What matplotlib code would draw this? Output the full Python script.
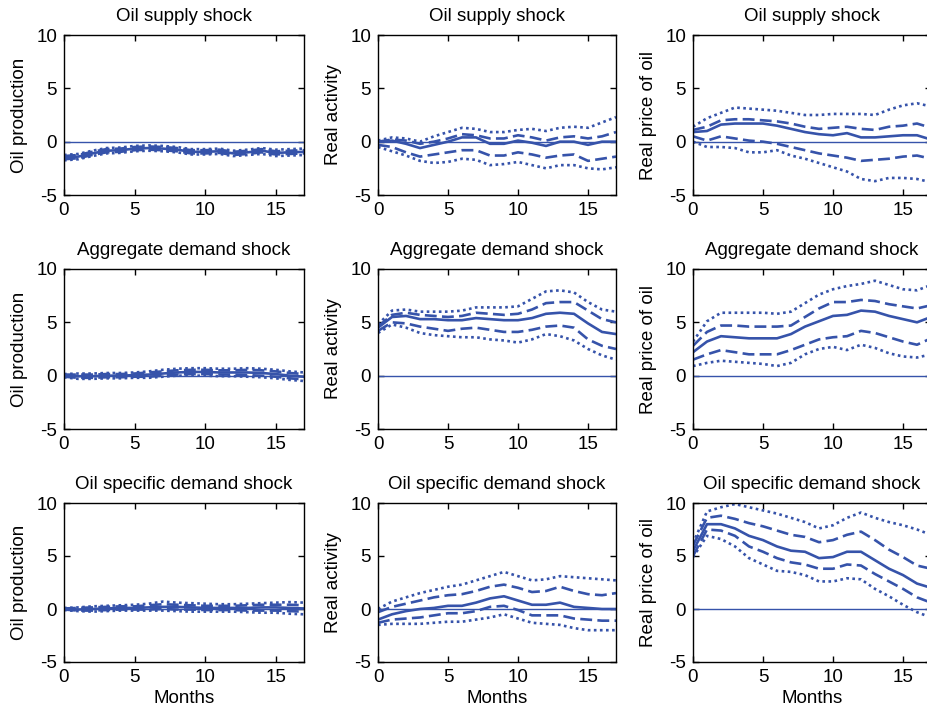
import matplotlib
matplotlib.use('Agg')
import matplotlib.pyplot as plt

# impulse responses, months 0..17
months = list(range(18))

shocks = ['Oil supply shock', 'Aggregate demand shock', 'Oil specific demand shock']
variables = ['Oil production', 'Real activity', 'Real price of oil']

# --- oil supply shock ---
sup_prod_med = [-1.5, -1.4, -1.1, -0.85, -0.8, -0.65, -0.6, -0.65, -0.75, -0.95, -0.95, -0.9, -1.1, -1.0, -0.85, -1.05, -1.0, -0.95]
sup_prod_d_hi = [-1.35, -1.25, -0.95, -0.7, -0.65, -0.5, -0.45, -0.5, -0.6, -0.8, -0.8, -0.75, -0.95, -0.85, -0.7, -0.9, -0.85, -0.8]
sup_prod_d_lo = [-1.65, -1.55, -1.25, -1.0, -0.95, -0.8, -0.75, -0.8, -0.9, -1.1, -1.1, -1.05, -1.25, -1.15, -1.0, -1.2, -1.15, -1.1]
sup_prod_p_hi = [-1.25, -1.15, -0.85, -0.6, -0.55, -0.4, -0.35, -0.4, -0.5, -0.7, -0.7, -0.65, -0.85, -0.75, -0.6, -0.75, -0.7, -0.65]
sup_prod_p_lo = [-1.75, -1.65, -1.35, -1.1, -1.05, -0.9, -0.85, -0.9, -1.0, -1.2, -1.2, -1.15, -1.35, -1.25, -1.15, -1.35, -1.3, -1.25]

sup_act_med = [0.0, 0.1, -0.2, -0.6, -0.3, 0.0, 0.4, 0.4, -0.2, -0.2, 0.1, -0.1, -0.4, 0.0, 0.0, -0.3, 0.0, 0.0]
sup_act_d_hi = [0.0, 0.2, 0.1, -0.2, 0.0, 0.3, 0.7, 0.6, 0.3, 0.3, 0.6, 0.4, 0.1, 0.4, 0.5, 0.3, 0.5, 0.9]
sup_act_d_lo = [-0.3, -0.5, -1.0, -1.4, -1.2, -1.0, -0.8, -0.8, -1.3, -1.3, -1.0, -1.2, -1.5, -1.3, -1.2, -1.8, -1.6, -1.4]
sup_act_p_hi = [0.1, 0.4, 0.3, 0.0, 0.5, 0.9, 1.3, 1.2, 0.9, 0.9, 1.1, 1.2, 1.0, 1.3, 1.4, 1.3, 1.8, 2.3]
sup_act_p_lo = [-0.5, -0.9, -1.3, -1.8, -2.0, -1.9, -1.6, -1.7, -2.2, -2.1, -1.9, -2.2, -2.5, -2.2, -2.2, -2.5, -2.6, -2.4]

sup_price_med = [0.9, 1.0, 1.6, 1.7, 1.7, 1.7, 1.5, 1.2, 0.9, 0.7, 0.6, 0.8, 0.4, 0.4, 0.5, 0.6, 0.6, 0.2]
sup_price_d_hi = [1.1, 1.4, 2.0, 2.1, 2.1, 2.0, 1.9, 1.7, 1.4, 1.2, 1.3, 1.4, 1.2, 1.1, 1.4, 1.5, 1.7, 1.3]
sup_price_d_lo = [0.5, 0.1, 0.5, 0.3, 0.1, 0.0, -0.2, -0.5, -0.8, -1.1, -1.3, -1.5, -1.8, -1.7, -1.6, -1.4, -1.3, -1.6]
sup_price_p_hi = [1.4, 2.2, 2.7, 3.2, 3.1, 3.0, 2.9, 2.7, 2.5, 2.5, 2.6, 2.6, 2.6, 2.5, 3.0, 3.4, 3.6, 3.3]
sup_price_p_lo = [0.0, -0.5, -0.5, -0.6, -1.0, -1.0, -0.8, -1.3, -1.6, -2.0, -2.4, -2.8, -3.5, -3.7, -3.4, -3.4, -3.5, -3.8]

# --- aggregate demand shock ---
agg_prod_med = [0.0, -0.05, -0.05, 0.0, 0.0, 0.05, 0.1, 0.2, 0.3, 0.35, 0.35, 0.3, 0.3, 0.3, 0.25, 0.15, 0.0, -0.1]
agg_prod_d_hi = [0.1, 0.1, 0.1, 0.15, 0.15, 0.2, 0.3, 0.4, 0.5, 0.55, 0.55, 0.5, 0.5, 0.55, 0.5, 0.4, 0.25, 0.15]
agg_prod_d_lo = [-0.1, -0.2, -0.2, -0.15, -0.15, -0.1, -0.1, 0.0, 0.1, 0.15, 0.15, 0.1, 0.1, 0.05, 0.0, -0.1, -0.25, -0.35]
agg_prod_p_hi = [0.15, 0.2, 0.2, 0.25, 0.25, 0.3, 0.4, 0.55, 0.65, 0.7, 0.7, 0.65, 0.65, 0.7, 0.65, 0.55, 0.4, 0.3]
agg_prod_p_lo = [-0.15, -0.3, -0.3, -0.25, -0.25, -0.2, -0.2, -0.1, 0.0, 0.0, 0.0, -0.05, -0.05, -0.1, -0.15, -0.25, -0.4, -0.5]

agg_act_med = [4.5, 5.5, 5.6, 5.3, 5.3, 5.2, 5.2, 5.4, 5.3, 5.2, 5.2, 5.4, 5.8, 5.9, 5.8, 4.9, 4.1, 3.9]
agg_act_d_hi = [4.6, 5.7, 5.9, 5.7, 5.6, 5.5, 5.6, 5.9, 5.8, 5.7, 5.8, 6.2, 6.8, 6.9, 6.9, 6.1, 5.3, 5.0]
agg_act_d_lo = [4.2, 5.0, 4.9, 4.6, 4.4, 4.2, 4.4, 4.5, 4.3, 4.1, 4.1, 4.3, 4.6, 4.7, 4.5, 3.4, 2.8, 2.5]
agg_act_p_hi = [4.8, 6.1, 6.2, 6.0, 6.0, 6.0, 6.1, 6.4, 6.4, 6.4, 6.5, 7.2, 7.9, 8.0, 7.8, 6.9, 6.2, 6.0]
agg_act_p_lo = [4.0, 4.8, 4.5, 4.0, 3.8, 3.7, 3.6, 3.6, 3.4, 3.3, 3.1, 3.4, 3.9, 3.7, 3.3, 2.5, 1.9, 1.5]

agg_price_med = [2.2, 3.2, 3.7, 3.6, 3.5, 3.5, 3.5, 3.9, 4.6, 5.1, 5.6, 5.7, 6.1, 6.0, 5.6, 5.3, 5.0, 5.5]
agg_price_d_hi = [2.8, 4.1, 4.7, 4.7, 4.6, 4.6, 4.6, 4.7, 5.5, 6.3, 6.9, 6.9, 7.1, 7.0, 6.7, 6.5, 6.3, 6.6]
agg_price_d_lo = [1.5, 2.0, 2.4, 2.2, 2.0, 2.0, 2.0, 2.4, 2.9, 3.4, 3.6, 3.7, 4.2, 4.0, 3.6, 3.2, 2.9, 3.5]
agg_price_p_hi = [3.2, 5.1, 5.9, 5.9, 5.9, 5.9, 5.8, 6.0, 6.8, 7.6, 8.1, 8.4, 8.6, 8.9, 8.5, 8.1, 8.0, 8.5]
agg_price_p_lo = [0.9, 1.2, 1.4, 1.3, 1.2, 1.1, 0.9, 1.2, 2.0, 2.5, 2.7, 2.4, 2.9, 2.6, 2.1, 1.8, 1.7, 2.0]

# --- oil specific demand shock ---
spec_prod_med = [0.0, -0.05, 0.0, 0.05, 0.1, 0.1, 0.15, 0.2, 0.2, 0.15, 0.1, 0.1, 0.1, 0.1, 0.15, 0.15, 0.1, 0.05]
spec_prod_d_hi = [0.05, 0.1, 0.15, 0.2, 0.25, 0.25, 0.35, 0.45, 0.4, 0.35, 0.3, 0.3, 0.3, 0.35, 0.4, 0.4, 0.4, 0.35]
spec_prod_d_lo = [-0.05, -0.15, -0.15, -0.1, -0.05, -0.05, -0.05, 0.0, -0.05, -0.05, -0.1, -0.1, -0.1, -0.15, -0.15, -0.15, -0.2, -0.25]
spec_prod_p_hi = [0.1, 0.15, 0.25, 0.3, 0.35, 0.4, 0.5, 0.7, 0.6, 0.55, 0.5, 0.45, 0.45, 0.5, 0.55, 0.6, 0.65, 0.6]
spec_prod_p_lo = [-0.1, -0.2, -0.25, -0.2, -0.15, -0.15, -0.15, -0.15, -0.2, -0.25, -0.25, -0.25, -0.25, -0.3, -0.35, -0.35, -0.45, -0.5]

spec_act_med = [-1.0, -0.5, -0.2, 0.0, 0.1, 0.3, 0.3, 0.6, 1.0, 1.2, 0.8, 0.4, 0.4, 0.6, 0.2, 0.1, 0.0, 0.0]
spec_act_d_hi = [-0.3, 0.2, 0.5, 0.8, 1.1, 1.3, 1.4, 1.7, 2.1, 2.3, 2.0, 1.6, 1.7, 2.1, 1.7, 1.4, 1.3, 1.5]
spec_act_d_lo = [-1.3, -1.0, -0.9, -0.8, -0.6, -0.4, -0.4, -0.2, 0.2, 0.3, -0.1, -0.6, -0.6, -0.6, -0.9, -1.0, -1.1, -1.1]
spec_act_p_hi = [0.0, 0.7, 1.1, 1.5, 1.8, 2.1, 2.3, 2.7, 3.1, 3.5, 3.1, 2.7, 2.8, 3.1, 3.0, 2.9, 2.8, 2.7]
spec_act_p_lo = [-1.5, -1.4, -1.4, -1.4, -1.3, -1.2, -1.2, -1.0, -0.8, -0.5, -0.9, -1.3, -1.4, -1.5, -1.8, -2.0, -2.0, -2.0]

spec_price_med = [5.5, 8.0, 8.0, 7.6, 6.9, 6.5, 5.9, 5.5, 5.4, 4.8, 4.9, 5.4, 5.4, 4.6, 3.8, 3.2, 2.4, 2.0]
spec_price_d_hi = [6.0, 8.6, 8.8, 8.5, 8.1, 7.8, 7.4, 7.0, 6.8, 6.3, 6.5, 7.0, 7.3, 6.5, 5.6, 4.9, 4.1, 3.8]
spec_price_d_lo = [5.0, 7.5, 7.4, 6.9, 5.9, 5.4, 4.8, 4.4, 4.2, 3.8, 3.8, 4.2, 4.1, 3.3, 2.6, 1.9, 1.1, 0.6]
spec_price_p_hi = [6.2, 9.2, 9.6, 9.9, 9.6, 9.3, 9.0, 8.6, 8.2, 7.6, 7.9, 8.6, 9.1, 8.6, 8.2, 7.9, 7.5, 7.0]
spec_price_p_lo = [4.9, 6.9, 6.6, 5.9, 4.8, 4.2, 3.6, 3.5, 3.2, 2.6, 2.6, 2.9, 2.8, 1.9, 1.2, 0.4, -0.3, -0.8]

panels = [
    [(sup_prod_med, sup_prod_d_hi, sup_prod_d_lo, sup_prod_p_hi, sup_prod_p_lo),
     (sup_act_med, sup_act_d_hi, sup_act_d_lo, sup_act_p_hi, sup_act_p_lo),
     (sup_price_med, sup_price_d_hi, sup_price_d_lo, sup_price_p_hi, sup_price_p_lo)],
    [(agg_prod_med, agg_prod_d_hi, agg_prod_d_lo, agg_prod_p_hi, agg_prod_p_lo),
     (agg_act_med, agg_act_d_hi, agg_act_d_lo, agg_act_p_hi, agg_act_p_lo),
     (agg_price_med, agg_price_d_hi, agg_price_d_lo, agg_price_p_hi, agg_price_p_lo)],
    [(spec_prod_med, spec_prod_d_hi, spec_prod_d_lo, spec_prod_p_hi, spec_prod_p_lo),
     (spec_act_med, spec_act_d_hi, spec_act_d_lo, spec_act_p_hi, spec_act_p_lo),
     (spec_price_med, spec_price_d_hi, spec_price_d_lo, spec_price_p_hi, spec_price_p_lo)],
]

plt.rcParams['font.family'] = ['Liberation Sans', 'DejaVu Sans']
plt.rcParams['axes.unicode_minus'] = False  # plain hyphen like the original "-5"
blue = '#3653aa'

fig = plt.figure(figsize=(9.27, 7.10), dpi=100)

# axes boxes in pixels (left, right) and (top, bottom); the right column runs off the page
cols = [(64, 304), (378, 616), (693, 931)]
rows = [(35, 195), (269, 429), (503, 662)]
W, H = 927.0, 710.0
fs = 13.5

for i in range(3):
    for j in range(3):
        l, r = cols[j]
        t, b = rows[i]
        ax = fig.add_axes([l / W, 1 - b / H, (r - l) / W, (b - t) / H])
        med, dhi, dlo, phi, plo = panels[i][j]
        ax.plot([0, 17], [0, 0], color=blue, lw=1.0)
        ax.plot(months, phi, color=blue, lw=1.9, linestyle=(0, (1, 1.3)))
        ax.plot(months, plo, color=blue, lw=1.9, linestyle=(0, (1, 1.3)))
        ax.plot(months, dhi, color=blue, lw=1.9, linestyle=(0, (4.5, 2)))
        ax.plot(months, dlo, color=blue, lw=1.9, linestyle=(0, (4.5, 2)))
        ax.plot(months, med, color=blue, lw=1.9)
        ax.set_xlim(0, 17)
        ax.set_ylim(-5, 10)
        ax.set_xticks([0, 5, 10, 15])
        ax.set_yticks([-5, 0, 5, 10])
        ax.tick_params(direction='in', top=True, right=True, length=4, width=1,
                       labelsize=fs, pad=5)
        for s in ax.spines.values():
            s.set_linewidth(1.0)
        ax.set_title(shocks[i], fontsize=fs, pad=10)
        ax.set_ylabel(variables[j], fontsize=fs, labelpad=6)
        if i == 2:
            ax.set_xlabel('Months', fontsize=fs, labelpad=3)

fig.savefig('out.png', dpi=100)
